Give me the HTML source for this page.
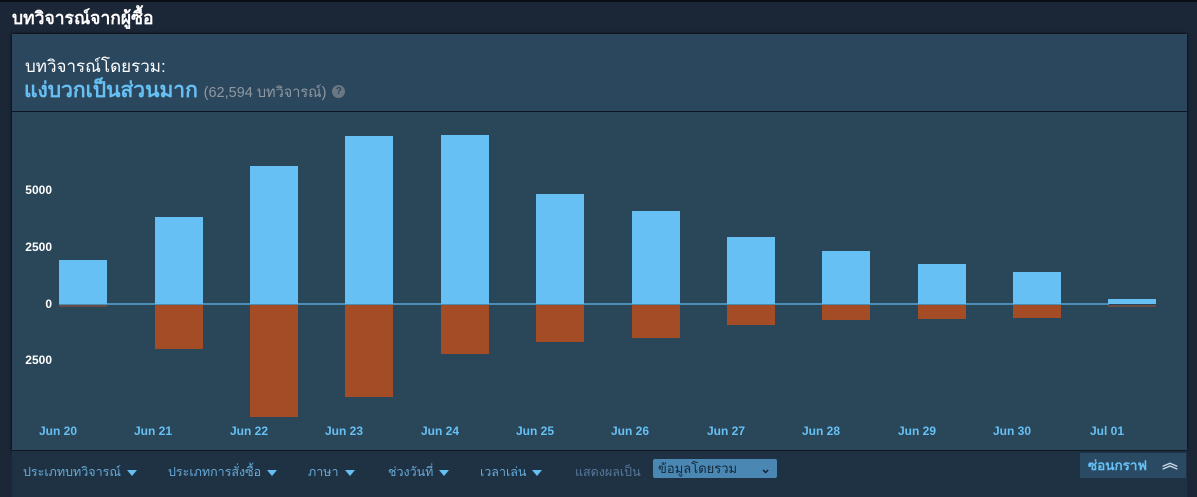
<!DOCTYPE html>
<html><head><meta charset="utf-8"><style>
body{margin:0;width:1197px;height:497px;background:#1b2636;overflow:hidden;font-family:"Liberation Sans","Noto Sans CJK SC",sans-serif;position:relative}
.abs{position:absolute}
.bp{position:absolute;background:#66c0f4;width:48px}
.bn{position:absolute;background:#a34c25;width:48px}
.yl{position:absolute;left:20px;width:32px;text-align:right;color:#fff;font-size:12px;font-weight:bold}
.xl{position:absolute;color:#66c0f4;font-size:12px;font-weight:bold;width:80px;text-align:center;top:424px}
.f{position:absolute;top:462px;color:#66a9d6;font-size:12.5px}
.tri{display:inline-block;width:0;height:0;border-left:5px solid transparent;border-right:5px solid transparent;border-top:6px solid #66c0f4;margin-left:6px;vertical-align:middle}
.sep{position:absolute;top:452px;width:1px;height:42px;background:#1d3142}
</style></head><body>
<div class="abs" style="left:0;top:0;width:1197px;height:2px;background:#0b0f15"></div>
<div class="abs" style="left:12px;top:4px;color:#fff;font-size:17.5px;font-weight:bold">บทวิจารณ์จากผู้ซื้อ</div>
<div class="abs" style="left:12px;top:34px;width:1175px;height:416px;background:#2b475e;box-shadow:0 0 3px #000"></div>
<div class="abs" style="left:12px;top:111px;width:1175px;height:1px;background:#0e1520"></div>
<div class="abs" style="left:12px;top:112px;width:1175px;height:338px;background:#2a4659"></div>
<div class="abs" style="left:25px;top:53px;color:#fff;font-size:17px">บทวิจารณ์โดยรวม:</div>
<div class="abs" style="left:24px;top:74px;color:#66c0f4;font-size:21px;font-weight:bold">แง่บวกเป็นส่วนมาก <span style="color:#8f98a0;font-size:14.5px;font-weight:normal">(62,594 บทวิจารณ์)</span> <span style="display:inline-block;width:13px;height:13px;border-radius:7px;background:#6b7783;color:#2b475e;font-size:10px;text-align:center;line-height:13px;vertical-align:middle">?</span></div>
<div class="yl" style="top:183px">5000</div>
<div class="yl" style="top:240px">2500</div>
<div class="yl" style="top:297px">0</div>
<div class="yl" style="top:353px">2500</div>
<div class="abs" style="left:59px;top:303px;width:1050px;height:2px;background:#4b8db5"></div>
<div class="bp" style="left:59px;top:260px;height:44px"></div><div class="bn" style="left:59px;top:305px;height:2px;background:#6a4a44"></div>
<div class="bp" style="left:155px;top:217px;height:87px"></div><div class="bn" style="left:155px;top:305px;height:44px"></div>
<div class="bp" style="left:250px;top:166px;height:138px"></div><div class="bn" style="left:250px;top:305px;height:112px"></div>
<div class="bp" style="left:345px;top:136px;height:168px"></div><div class="bn" style="left:345px;top:305px;height:92px"></div>
<div class="bp" style="left:441px;top:135px;height:169px"></div><div class="bn" style="left:441px;top:305px;height:49px"></div>
<div class="bp" style="left:536px;top:194px;height:110px"></div><div class="bn" style="left:536px;top:305px;height:37px"></div>
<div class="bp" style="left:632px;top:211px;height:93px"></div><div class="bn" style="left:632px;top:305px;height:33px"></div>
<div class="bp" style="left:727px;top:237px;height:67px"></div><div class="bn" style="left:727px;top:305px;height:20px"></div>
<div class="bp" style="left:822px;top:251px;height:53px"></div><div class="bn" style="left:822px;top:305px;height:15px"></div>
<div class="bp" style="left:918px;top:264px;height:40px"></div><div class="bn" style="left:918px;top:305px;height:14px"></div>
<div class="bp" style="left:1013px;top:272px;height:32px"></div><div class="bn" style="left:1013px;top:305px;height:13px"></div>
<div class="bp" style="left:1108px;top:299px;height:5px"></div><div class="bn" style="left:1108px;top:305px;height:2px;background:#6a4a44"></div>
<div class="xl" style="left:18px">Jun 20</div>
<div class="xl" style="left:113px">Jun 21</div>
<div class="xl" style="left:209px">Jun 22</div>
<div class="xl" style="left:304px">Jun 23</div>
<div class="xl" style="left:400px">Jun 24</div>
<div class="xl" style="left:495px">Jun 25</div>
<div class="xl" style="left:590px">Jun 26</div>
<div class="xl" style="left:686px">Jun 27</div>
<div class="xl" style="left:781px">Jun 28</div>
<div class="xl" style="left:877px">Jun 29</div>
<div class="xl" style="left:972px">Jun 30</div>
<div class="xl" style="left:1067px">Jul 01</div>
<div class="abs" style="left:12px;top:451px;width:1175px;height:46px;background:#1f3244"></div>
<div class="sep" style="left:12px"></div><div class="sep" style="left:155px"></div><div class="sep" style="left:295px"></div><div class="sep" style="left:375px"></div><div class="sep" style="left:467px"></div><div class="sep" style="left:563px"></div>
<div class="f" style="left:23px">ประเภทบทวิจารณ์<span class="tri"></span></div>
<div class="f" style="left:168px">ประเภทการสั่งซื้อ<span class="tri"></span></div>
<div class="f" style="left:308px">ภาษา<span class="tri"></span></div>
<div class="f" style="left:388px">ช่วงวันที่<span class="tri"></span></div>
<div class="f" style="left:480px">เวลาเล่น<span class="tri"></span></div>
<div class="f" style="left:575px;color:#56789a">แสดงผลเป็น</div>
<div class="abs" style="left:653px;top:459px;width:124px;height:19px;background:#4b87b3;border-radius:2px;color:#13283a;font-size:13px;line-height:19px;padding-left:5px;box-sizing:border-box">ข้อมูลโดยรวม<span style="position:absolute;right:6px;font-weight:bold">⌄</span></div>
<div class="abs" style="left:1080px;top:453px;width:106px;height:25px;background:#2a4a63;color:#66c0f4;font-size:13.5px;line-height:25px;padding-left:8px;box-sizing:border-box;font-weight:bold">ซ่อนกราฟ <span style="color:#c9d8e6;font-size:16px;position:absolute;right:8px;top:-2px">︽</span></div>
</body></html>
